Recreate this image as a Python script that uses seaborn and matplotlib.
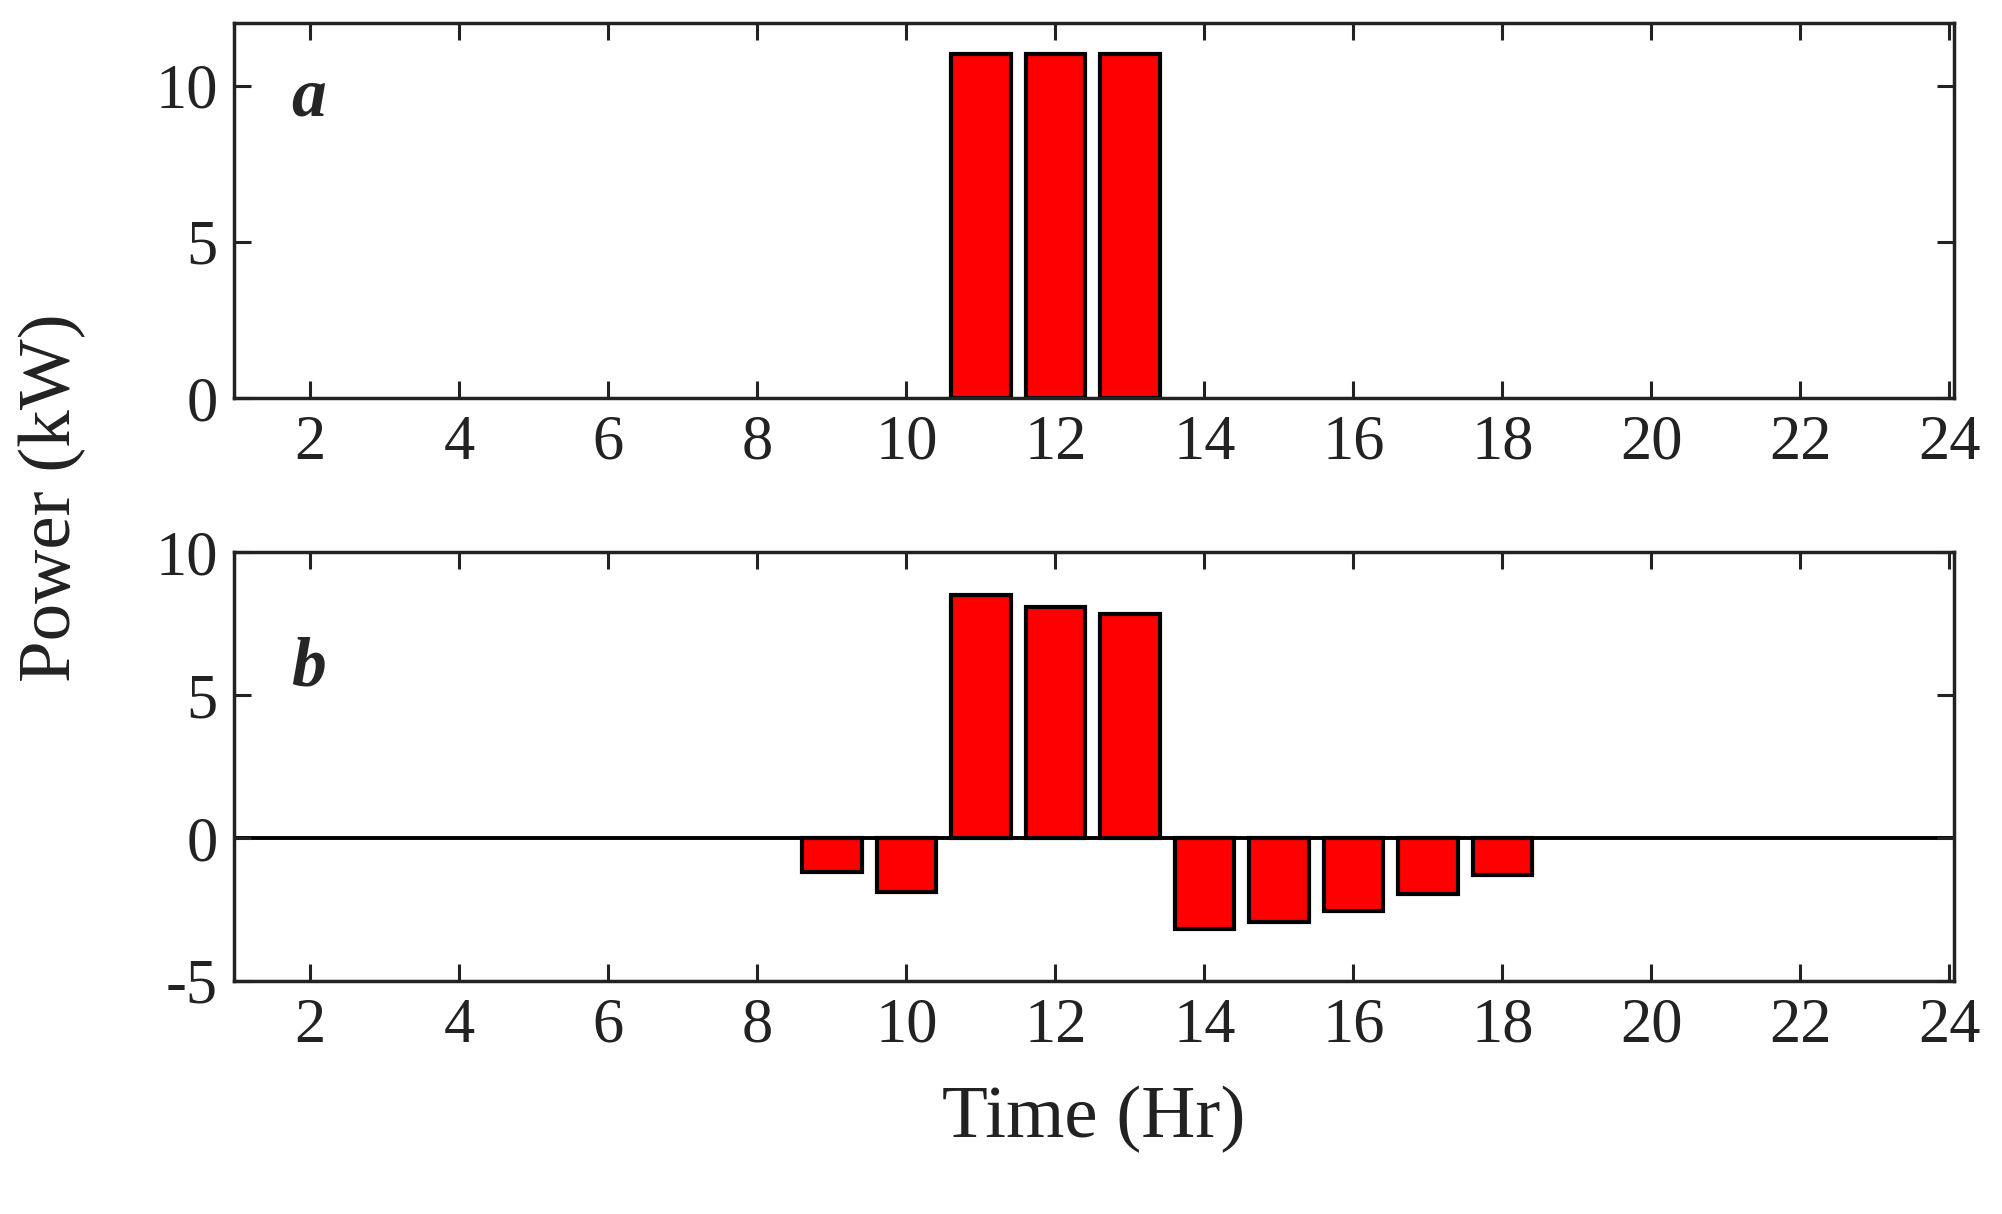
import matplotlib
matplotlib.use("Agg")
import matplotlib.pyplot as plt
import seaborn as sns
import pandas as pd

hours = list(range(1, 25))
power_a = [0]*10 + [11, 11, 11] + [0]*11
power_b = [0]*8 + [-1.2, -1.9, 8.5, 8.1, 7.85, -3.17, -2.95, -2.54, -1.96, -1.29] + [0]*6
xticks = list(range(2, 25, 2))

sns.set_theme(style="white")
plt.rcParams['font.family'] = ['Liberation Serif', 'DejaVu Serif']

fig = plt.figure(figsize=(20.02, 12.14), dpi=100)
ax1 = fig.add_axes([0.117, 0.672, 0.859, 0.309])
ax2 = fig.add_axes([0.117, 0.192, 0.859, 0.353])

for ax, vals, ylim, yt, lab in [(ax1, power_a, (0, 12), [0, 5, 10], 'a'),
                                (ax2, power_b, (-5, 10), [-5, 0, 5, 10], 'b')]:
    df = pd.DataFrame({'h': hours, 'p': vals})
    sub = df[df.p != 0]
    sns.barplot(data=sub, x='h', y='p', native_scale=True, width=0.8,
                color='#ff0000', saturation=1, edgecolor='black', linewidth=3, ax=ax)
    ax.set_xlim(0.98, 24.06)
    ax.set_ylim(*ylim)
    ax.set_xticks(xticks)
    ax.set_yticks(yt)
    ax.set_yticklabels([str(v) for v in yt])
    ax.set_xlabel('')
    ax.set_ylabel('')
    ax.tick_params(direction='in', length=12, width=2.2, labelsize=45,
                   top=True, right=True, bottom=True, left=True, pad=12,
                   colors='#222222')
    for s in ax.spines.values():
        s.set_linewidth(2.5)
        s.set_color('#222222')
    ax.text(0.033, 0.80 if lab == 'a' else 0.73, lab, transform=ax.transAxes,
            fontsize=50, fontweight='bold', fontstyle='italic', ha='left', va='center')

ax2.axhline(0, color='black', lw=2.8, zorder=0)
ax2.set_xlabel('Time (Hr)', fontsize=54, labelpad=22, color='#222222')
fig.text(0.026, 0.59, 'Power (kW)', rotation=90, fontsize=54, ha='center', va='center',
         color='#222222')

fig.savefig('out.png', dpi=100)
